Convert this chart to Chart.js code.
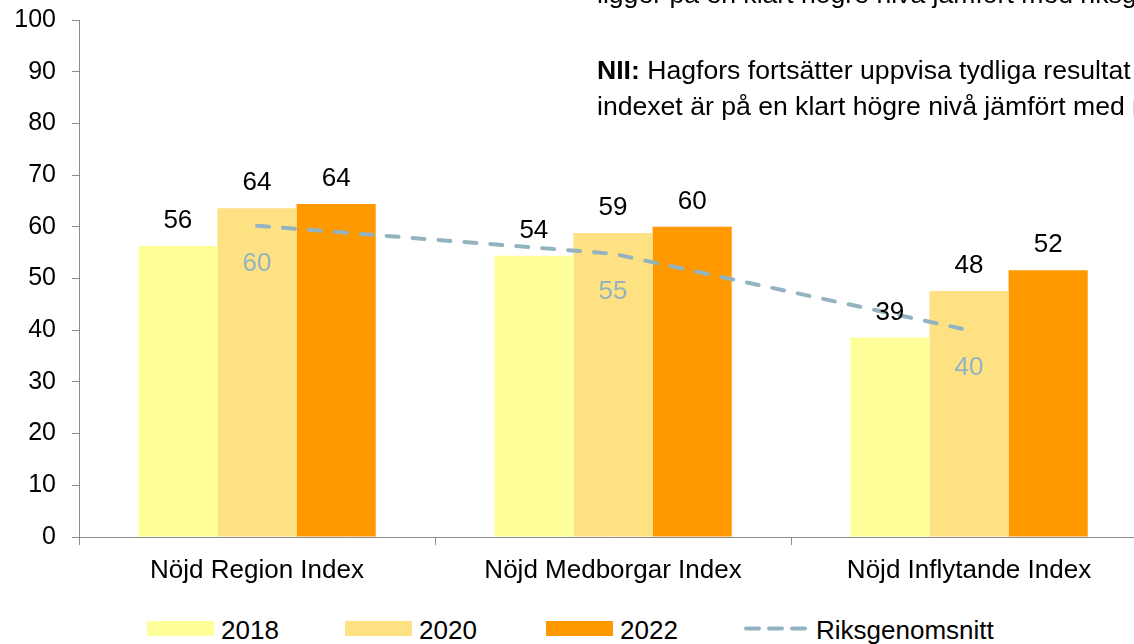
<!DOCTYPE html>
<html>
<head>
<meta charset="utf-8">
<script src="https://cdn.jsdelivr.net/npm/chart.js@4/dist/chart.umd.min.js"></script>
<style>
  html, body { margin: 0; padding: 0; background: #fff; overflow: hidden; width: 1134px; height: 644px; }
  body { position: relative; font-family: "Liberation Sans", Arial, sans-serif; }
  #wrap { position: absolute; left: 0; top: 0; width: 1148px; height: 600px; }
  .note { position: absolute; left: 597px; white-space: nowrap; font-size: 26.6px; color: #000; line-height: 1; }
  .legend { position: absolute; top: 616px; height: 28px; font-size: 26px; color: #000; }
  .legend .sw { position: absolute; top: 5px; width: 67px; height: 15px; }
  .legend .tx { position: absolute; top: 0; white-space: nowrap; line-height: 28px; }
</style>
</head>
<body>
<div id="wrap"><canvas id="chart" width="1148" height="600"></canvas></div>

<div class="note" style="top:-19px">ligger på en klart högre nivå jämfört med riksgenomsnittet.</div>
<div class="note" style="top:57px"><b>NII:</b> Hagfors fortsätter uppvisa tydliga resultat och</div>
<div class="note" style="top:93px">indexet är på en klart högre nivå jämfört med riksgenomsnittet.</div>

<div class="legend" style="left:147px">
  <div class="sw" style="left:0;background:#FFFF99"></div><div class="tx" style="left:74px">2018</div>
</div>
<div class="legend" style="left:345px">
  <div class="sw" style="left:0;background:#FEE182"></div><div class="tx" style="left:74px">2020</div>
</div>
<div class="legend" style="left:546px">
  <div class="sw" style="left:0;background:#FF9900"></div><div class="tx" style="left:74px">2022</div>
</div>
<div class="legend" style="left:744px">
  <svg width="70" height="28" style="position:absolute;left:0;top:0">
    <line x1="2" y1="12.5" x2="68" y2="12.5" stroke="#93B3C0" stroke-width="4" stroke-dasharray="13 10" stroke-linecap="round"/>
  </svg>
  <div class="tx" style="left:72px">Riksgenomsnitt</div>
</div>

<script>
// --------------------------- Data
const categories = ['Nöjd Region Index', 'Nöjd Medborgar Index', 'Nöjd Inflytande Index'];
const values2018 = [56.3, 54.4, 38.6];
const values2020 = [63.6, 58.8, 47.6];
const values2022 = [64.4, 60.0, 51.6];
const riksSnitt  = [60.2, 54.8, 40.0];
const yTicks = [0, 10, 20, 30, 40, 50, 60, 70, 80, 90, 100];

const COLORS = {
    y2018: '#FFFF99',
    y2020: '#FEE182',
    y2022: '#FF9900',
    riks: '#93B3C0',
    axis: '#8C8C8C',
};

const FONT = 'Liberation Sans, Arial, sans-serif';

// draws the value labels, above bars and under the line points
const valueLabels = {
    id: 'valueLabels',
    afterDatasetsDraw(chart) {
        const ctx = chart.ctx;
        ctx.save();
        ctx.font = '26px ' + FONT;
        ctx.textAlign = 'center';
        ctx.textBaseline = 'middle';
        chart.data.datasets.forEach(function(ds, i) {
            const meta = chart.getDatasetMeta(i);
            meta.data.forEach(function(el, j) {
                const txt = Math.round(ds.data[j]).toString();
                if (ds.type === 'line') {
                    ctx.fillStyle = COLORS.riks;
                    ctx.fillText(txt, el.x, el.y + 38);
                } else {
                    ctx.fillStyle = '#000';
                    ctx.fillText(txt, el.x, el.y - 25);
                }
            });
        });
        ctx.restore();
    }
};

const config = {
    type: 'bar',
    data: {
        labels: categories,
        datasets: [
            {
                type: 'line',
                label: 'Riksgenomsnitt',
                data: riksSnitt,
                borderColor: COLORS.riks,
                borderWidth: 4,
                borderDash: [12, 14],
                borderCapStyle: 'round',
                pointRadius: 0,
                fill: false,
                tension: 0,
                order: 0,
            },
            { label: '2018', data: values2018, backgroundColor: COLORS.y2018, order: 1 },
            { label: '2020', data: values2020, backgroundColor: COLORS.y2020, order: 1 },
            { label: '2022', data: values2022, backgroundColor: COLORS.y2022, order: 1 },
        ]
    },
    options: {
        responsive: false,
        animation: false,
        categoryPercentage: 0.667,
        barPercentage: 1.0,
        layout: {
            padding: { top: 20, right: 1, bottom: 0, left: 0 }
        },
        plugins: {
            legend: { display: false },
            tooltip: { enabled: false },
        },
        scales: {
            x: {
                grid: {
                    drawOnChartArea: false,
                    tickLength: 8,
                    color: COLORS.axis,
                    offset: true,
                },
                border: { color: COLORS.axis, width: 1 },
                ticks: {
                    color: '#000',
                    padding: 10,
                    font: { family: FONT, size: 26 },
                    maxRotation: 0,
                },
                afterFit: function(scale) { scale.height = 63; },
            },
            y: {
                min: 0,
                max: 100,
                afterBuildTicks: function(scale) {
                    scale.ticks = yTicks.map(v => ({ value: v }));
                },
                grid: {
                    drawOnChartArea: false,
                    tickLength: 7,
                    color: COLORS.axis,
                },
                border: { color: COLORS.axis, width: 1 },
                ticks: {
                    color: '#000',
                    padding: 16,
                    font: { family: FONT, size: 25 },
                },
                afterFit: function(scale) {
                    scale.width = 79;
                    scale.paddingTop = 0;
                    scale.paddingBottom = 0;
                },
            }
        }
    },
    plugins: [valueLabels],
};

new Chart(document.getElementById('chart'), config);
</script>
</body>
</html>
